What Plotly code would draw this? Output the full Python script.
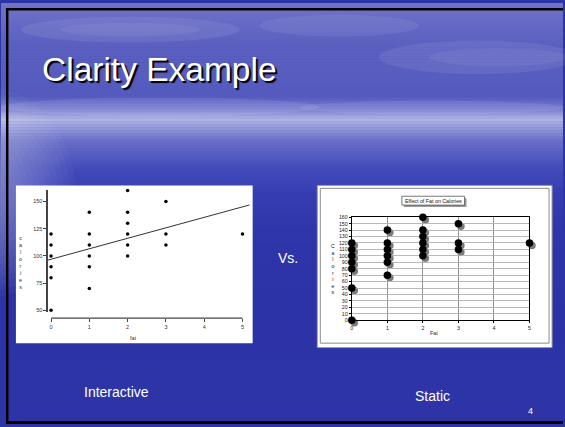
import numpy as np
import plotly.graph_objects as go

# ---------------- data ----------------
fat_interactive = [0, 0, 0, 0, 0, 0, 1, 1, 1, 1, 1, 1, 2, 2, 2, 2, 2, 2, 3, 3, 3, 5]
cal_interactive = [50, 80, 90, 100, 110, 120, 70, 90, 100, 110, 120, 140,
                   100, 110, 120, 130, 140, 160, 110, 120, 150, 120]
fat_static = [0] + fat_interactive
cal_static = [0] + cal_interactive
x_ticks = [0, 1, 2, 3, 4, 5]
y_ticks_left = [50, 75, 100, 125, 150]
y_ticks_right = list(range(0, 161, 10))

W, H = 565, 427
def px(x):
    return x / W
def py(y):
    return 1 - y / H

fig = go.Figure()

# ---------------- background (slide) ----------------
stops = [(0, (112, 116, 200)), (40, (92, 96, 192)), (95, (84, 90, 190)),
         (108, (122, 126, 208)), (118, (178, 182, 230)), (126, (150, 155, 218)),
         (140, (104, 110, 200)), (165, (70, 78, 188)), (190, (54, 62, 178)),
         (230, (46, 54, 170)), (300, (43, 51, 166)), (427, (46, 52, 166))]
shapes = []
band = 3
for y in range(0, H, band):
    yc = y + band / 2
    for (y0, c0), (y1, c1) in zip(stops[:-1], stops[1:]):
        if y0 <= yc <= y1:
            t = (yc - y0) / (y1 - y0)
            c = tuple(int(round(a + (b - a) * t)) for a, b in zip(c0, c1))
            break
    shapes.append(dict(type="rect", xref="paper", yref="paper", layer="below",
                       x0=0, x1=1, y0=py(y + band + 0.5), y1=py(y),
                       fillcolor="rgb(%d,%d,%d)" % c, line=dict(width=0)))

def ell(x0, y0, x1, y1, op):
    shapes.append(dict(type="circle", xref="paper", yref="paper", layer="below",
                       x0=px(x0), x1=px(x1), y0=py(y1), y1=py(y0),
                       fillcolor="white", opacity=op, line=dict(width=0)))

# left glow (many faint layered ellipses) & clouds
for k in range(14):
    ell(-110 + 3 * k, 85 + 5 * k, 75 - 6 * k, 300 - 6 * k, 0.03)
for cx0, cy0, cx1, cy1, op in [(20, 14, 240, 40, 0.08), (60, 20, 200, 34, 0.06),
                               (260, 12, 420, 34, 0.07), (380, 38, 580, 72, 0.08),
                               (430, 46, 570, 64, 0.06), (0, 96, 320, 115, 0.09),
                               (300, 99, 565, 113, 0.08)]:
    ell(cx0, cy0, cx1, cy1, op)

def rect(x0, y0, x1, y1, fill, line_color=None, lw=0, layer="below"):
    shapes.append(dict(type="rect", xref="paper", yref="paper", layer=layer,
                       x0=px(x0), x1=px(x1), y0=py(y1), y1=py(y0),
                       fillcolor=fill,
                       line=dict(width=lw, color=line_color or fill)))

# black frame lines
rect(5, 5, 565, 7.5, "black")
rect(5, 5, 7.5, 427, "black")
rect(5, 424, 565, 427, "black")

# chart panels
rect(15, 185, 253, 345, "white")
rect(318, 185, 554, 349.5, "white", "#9a9a9a", 1)
rect(321, 188, 551, 345, "white", "#8a8a8a", 1)
# title box for static chart
rect(405, 198, 468, 207, "#9a9a9a")
rect(403, 196, 466, 205, "white", "#555555", 0.8)

# ---------------- left (interactive) chart ----------------
lx_dom = (46, 250)
lx_range = [(lx_dom[0] - 50.3) / 38.5, (lx_dom[1] - 50.3) / 38.5]
ly_dom = (190, 313.7)
ly_range = [48.2, 160.2]

fig.add_trace(go.Scatter(x=fat_interactive, y=cal_interactive, mode="markers",
                         marker=dict(color="black", size=3.5), cliponaxis=False,
                         xaxis="x", yaxis="y", showlegend=False, hoverinfo="skip"))
slope, intercept = np.polyfit(fat_interactive, cal_interactive, 1)
line_x = np.array(lx_range)
fig.add_trace(go.Scatter(x=line_x, y=intercept + slope * line_x, mode="lines",
                         line=dict(color="#333333", width=1),
                         xaxis="x", yaxis="y", showlegend=False, hoverinfo="skip"))

# x axis line of left chart (range-frame style)
shapes.append(dict(type="line", xref="x", yref="paper", x0=min(x_ticks), x1=max(x_ticks),
                   y0=py(319.7), y1=py(319.7), line=dict(color="#444", width=1.2)))

tickfont = dict(family="Liberation Sans, Arial", size=5.5, color="#333")
rtickfont = dict(family="Liberation Sans, Arial", size=5.3, color="#222")

# ---------------- right (static) chart ----------------
rx_dom = (352.7, 531.3)
ry_dom = (217.3, 321.7)
sh = 2.5  # shadow offset in px

fig.add_trace(go.Scatter(x=fat_static, y=cal_static, mode="markers",
                         marker=dict(color="#7a7a7a", size=7.5), cliponaxis=False,
                         xaxis="x2", yaxis="y2", showlegend=False, hoverinfo="skip"))
fig.add_trace(go.Scatter(x=fat_static, y=cal_static, mode="markers",
                         marker=dict(color="black", size=7.5), cliponaxis=False,
                         xaxis="x3", yaxis="y3", showlegend=False, hoverinfo="skip"))

annos = []
def text(x, y, s, size, color="white", family="Liberation Sans, Arial", xanchor="center",
         shadow=None):
    f = dict(family=family, size=size, color=color)
    if shadow:
        f["shadow"] = shadow
    annos.append(dict(x=px(x), y=py(y), xref="paper", yref="paper", text=s,
                      showarrow=False, xanchor=xanchor, yanchor="middle", font=f))

text(39, 67.5, "Clarity Example", 33.5, "white", "Liberation Sans, Arial", "left",
     shadow="2px 2px 1px black")
text(116.5, 394.5, "Interactive", 14)
text(434, 398.5, "Static", 14)
text(532, 414, "4", 9)
text(288.5, 259, "Vs.", 14)
text(434.5, 200.8, "Effect of Fat on Calories", 5.3, "#111")
text(19.5, 263.3, "<br>".join("calories"), 5.4, "#333")
text(334, 270, "<br>".join("Calories"), 5.1, "#111")
text(133.3, 340, "fat", 5.5, "#333")
text(435, 334.5, "Fat", 5.3, "#222")

fig.update_layout(
    width=W, height=H, margin=dict(l=0, r=0, t=0, b=0),
    paper_bgcolor="#2c34a6", plot_bgcolor="rgba(0,0,0,0)",
    shapes=shapes, annotations=annos, hovermode=False,
    xaxis=dict(domain=[px(lx_dom[0]), px(lx_dom[1])], range=lx_range, anchor="free",
               position=py(319.7), showline=False, showgrid=False, zeroline=False,
               tickvals=x_ticks, ticks="outside", ticklen=3, tickcolor="#444",
               tickfont=tickfont),
    yaxis=dict(domain=[py(ly_dom[1]), py(ly_dom[0])], range=ly_range, anchor="free",
               position=px(45.7), showline=True, linecolor="#444", linewidth=1.2,
               showgrid=False, zeroline=False, tickvals=y_ticks_left, ticks="outside",
               ticklen=3, tickcolor="#444", tickfont=tickfont),
    xaxis2=dict(domain=[px(rx_dom[0] + sh), px(rx_dom[1] + sh)], range=[0, 5],
                anchor="y2", visible=False),
    yaxis2=dict(domain=[py(ry_dom[1] + sh), py(ry_dom[0] + sh)], range=[0, 160],
                anchor="x2", visible=False),
    xaxis3=dict(domain=[px(rx_dom[0]), px(rx_dom[1])], range=[0, 5], anchor="y3",
                showline=True, linecolor="black", linewidth=1, mirror=True,
                showgrid=True, gridcolor="#7a7a7a", gridwidth=0.8, zeroline=False,
                tickvals=x_ticks, ticks="outside", ticklen=2, tickcolor="black",
                tickfont=rtickfont),
    yaxis3=dict(domain=[py(ry_dom[1]), py(ry_dom[0])], range=[0, 160], anchor="x3",
                showline=True, linecolor="black", linewidth=1, mirror=True,
                showgrid=True, gridcolor="#a8a8a8", gridwidth=0.8, zeroline=False,
                tickvals=y_ticks_right, ticks="outside", ticklen=2, tickcolor="black",
                tickfont=rtickfont),
)

fig.write_html("out.html", config={"displayModeBar": False, "staticPlot": True})
# remove the browser's default page margin so the figure fills the window exactly
with open("out.html", encoding="utf-8") as f:
    html = f.read()
html = html.replace("<body>", '<body style="margin:0;overflow:hidden;background:#2c34a6">', 1)
with open("out.html", "w", encoding="utf-8") as f:
    f.write(html)
